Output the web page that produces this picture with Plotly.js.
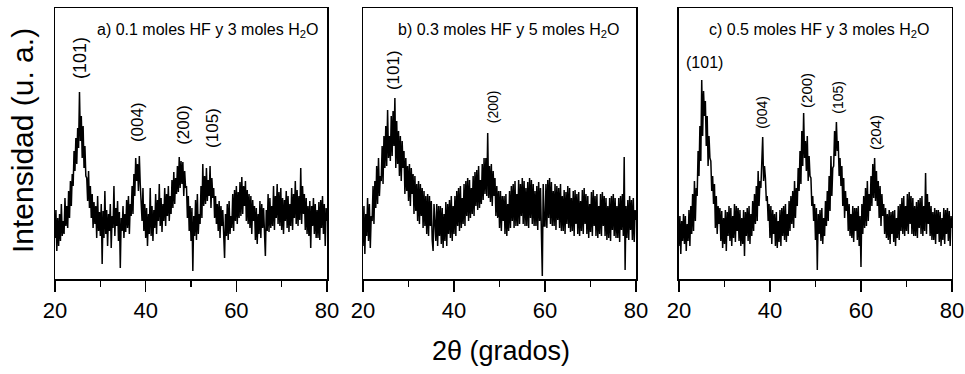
<!DOCTYPE html>
<html>
<head>
<meta charset="utf-8">
<script src="https://cdn.plot.ly/plotly-3.0.1.min.js"></script>
<style>html,body{margin:0;padding:0;background:#fff}#chart{width:965px;height:374px}</style>
</head>
<body>
<div id="chart"></div>
<script>
// 2θ sampling grid (degrees): start and step of the digitised patterns
const thetaStart = 20;
const thetaStep = 0.2;

// Intensity (a.u.) read from panel a) 0.1 moles HF y 3 moles H2O
const intensityA = [
 38,66,25,58,30, 62,35,72,40,55, 42,78,50,70,48, 85,58,95,70,102, 90,125,105,138,112,
 148,128,184,135,160, 118,150,108,130,100, 98,75,105,68,90, 58,82,48,74,52, 70,38,80,45,64,
 40,72,12,65,38, 85,42,66,30,62, 45,72,28,60,48, 90,40,68,50,75, 35,64,8,58,45,
 70,38,62,44,76, 48,80,42,72,60, 90,62,102,80,118, 95,112,85,120,92, 75,55,88,45,72,
 38,68,30,62,42, 88,40,70,35,66, 48,82,42,76,55, 92,50,78,44,72, 55,88,50,82,60,
 90,55,80,62,96, 68,104,72,98,82, 110,84,119,88,115, 92,114,80,105,88, 90,58,80,45,70,
 35,68,5,60,40, 76,36,82,42,62, 52,90,58,112,70, 100,72,108,75,96, 80,110,68,98,78,
 88,58,80,52,72, 45,75,38,70,50, 66,30,18,62,40, 72,36,75,42,60, 48,82,45,86,55,
 90,52,84,58,94, 60,99,62,90,70, 95,55,86,52,82, 48,80,42,76,55, 70,36,68,32,62,
 42,75,38,72,48, 68,36,20,66,45, 82,44,78,48,70, 50,90,46,80,58, 92,52,84,50,88,
 46,78,42,76,55, 85,48,80,44,72, 50,88,46,82,58, 95,52,86,50,80, 56,108,52,90,62,
 82,46,78,42,70, 40,75,28,70,50, 78,42,72,38,66, 38,74,36,76,48, 80,42,72,30,68,
 55
];

// Intensity (a.u.) read from panel b) 0.3 moles HF y 5 moles H2O
const intensityB = [
 30,70,22,62,40, 78,35,72,28,60, 55,90,52,95,68, 110,72,118,80,100, 95,130,92,140,108,
 150,110,166,118,140, 115,160,120,165,130, 178,108,155,112,145, 100,140,95,135,108, 125,82,118,85,110,
 75,112,70,108,82, 102,62,100,65,92, 55,95,52,92,60, 88,48,85,50,80, 42,82,40,80,50,
 75,36,25,72,45, 35,72,30,70,40, 70,32,68,28,62, 35,74,30,72,42, 76,38,80,35,70,
 42,80,40,85,50, 88,45,90,48,78, 52,92,50,95,60, 98,55,96,58,88, 62,100,60,104,70,
 106,66,110,68,96, 72,112,76,118,82, 118,80,143,78,110, 74,112,70,105,80, 98,60,90,58,85,
 48,85,45,80,55, 80,42,82,40,72, 45,85,48,90,55, 92,48,95,50,82, 50,96,52,92,60,
 98,52,95,50,88, 50,94,48,98,58, 96,52,92,50,85, 50,90,46,94,55, 88,48,0,92,50,
 50,92,48,96,58, 98,52,94,50,85, 50,92,46,90,56, 88,48,92,45,80, 45,86,42,84,52,
 90,48,88,44,78, 45,85,40,86,52, 82,42,84,40,75, 45,86,42,88,52, 82,42,80,38,72,
 44,84,40,86,50, 80,40,82,38,70, 42,82,40,84,50, 80,40,78,36,70, 38,78,35,80,46,
 82,40,78,38,70, 38,78,34,80,46, 82,40,119,6,70, 38,76,36,80,46, 76,36,78,34,66,
 56
];

// Intensity (a.u.) read from panel c) 0.5 moles HF y 3 moles H2O
const intensityC = [
 30,60,22,55,35, 62,32,60,25,52, 35,66,30,70,42, 82,45,95,55,88, 80,125,100,150,115,
 196,140,185,160,175, 130,160,110,140,118, 115,85,100,72,92, 48,80,42,70,52, 68,35,65,28,58,
 32,66,25,64,40, 70,35,68,30,60, 38,72,34,70,45, 68,35,66,30,58, 32,66,20,64,40,
 68,35,70,32,62, 40,75,45,82,52, 90,55,105,70,95, 88,120,139,95,110, 98,75,80,55,72,
 38,70,32,66,42, 62,30,64,28,55, 34,66,30,68,40, 70,36,72,34,62, 40,75,45,80,52,
 85,48,95,58,88, 70,108,85,125,92, 145,110,163,118,135, 105,140,95,120,100, 98,70,80,55,72,
 36,68,6,62,42, 66,35,68,32,58, 40,75,50,85,55, 100,65,120,80,108, 110,145,120,154,125,
 135,100,118,90,110, 70,98,58,85,65, 78,45,72,40,62, 38,70,34,68,45, 68,36,70,30,60,
 9,72,42,80,48, 88,50,95,55,82, 65,100,70,112,78, 118,75,105,70,95, 58,90,50,82,60,
 72,42,68,38,62, 36,66,32,64,42, 65,34,66,30,58, 38,70,36,72,45, 78,42,80,40,70,
 45,82,42,84,52, 80,42,78,40,70, 40,74,38,76,48, 78,42,80,40,70, 45,103,42,82,52,
 74,40,70,36,64, 36,68,32,66,42, 66,34,64,30,58, 36,68,32,66,42, 68,35,65,30,60,
 48
];

// Panel captions and Miller-index labels
const panelTitles = [
 'a) 0.1 moles HF y 3 moles H<sub>2</sub>O',
 'b) 0.3 moles HF y 5 moles H<sub>2</sub>O',
 'c) 0.5 moles HF y 3 moles H<sub>2</sub>O'
];
const peakLabelsA = ['(101)','(004)','(200)','(105)'];
const peakPosA = [25.5, 38.1, 48.2, 54.6];
const peakLabelYA = [218, 154, 151, 148];
const peakLabelsB = ['(101)','(200)'];
const peakPosB = [26.6, 48.6];
const peakLabelYB = [206, 169];
const peakLabelsC = ['(101)','(004)','(200)','(105)','(204)'];
const peakPosC = [25.7, 38.2, 47.9, 54.9, 63.1];
const peakLabelYC = [214, 164, 186, 179, 143];

const xTickVals = [20, 40, 60, 80];
const xTickText = ['20', '40', '60', '80'];

function grid(arr){ return arr.map((_, i) => thetaStart + i*thetaStep); }

const lineStyle = {color:'#000', width:1.5};
const traces = [
 {x: grid(intensityA), y: intensityA, xaxis:'x', yaxis:'y', type:'scatter', mode:'lines', line:lineStyle, hoverinfo:'skip'},
 {x: grid(intensityB), y: intensityB, xaxis:'x2', yaxis:'y2', type:'scatter', mode:'lines', line:lineStyle, hoverinfo:'skip'},
 {x: grid(intensityC), y: intensityC, xaxis:'x3', yaxis:'y3', type:'scatter', mode:'lines', line:lineStyle, hoverinfo:'skip'}
];

const tickFont = {family:'Liberation Sans, Arial, sans-serif', size:22, color:'#000'};
function xAxis(domain, anchor){
 return {domain: domain, anchor: anchor, range:[20,80], tickvals:xTickVals, ticktext:xTickText,
  ticks:'outside', ticklen:11, tickwidth:1.5, tickcolor:'#000', ticklabeloverflow:'allow',
  minor:{tickvals:[30,50,70], ticks:'outside', ticklen:6, tickwidth:1.5, tickcolor:'#000'},
  showline:true, linewidth:1.5, linecolor:'#000', mirror:true, showgrid:false, zeroline:false,
  tickfont:tickFont, fixedrange:true};
}
function yAxis(anchor){
 return {domain:[0.254, 0.9786], anchor: anchor, range:[-3, 268], showticklabels:false, ticks:'',
  showline:true, linewidth:1.5, linecolor:'#000', mirror:true, showgrid:false, zeroline:false, fixedrange:true};
}

const annFont = {family:'Liberation Sans, Arial, sans-serif', color:'#000'};
const annotations = [];
const titleX = [53.6, 51.9, 50.8];
['x','x2','x3'].forEach((xr, i) => {
 annotations.push({xref:xr, yref:(i===0?'y':'y'+(i+1)), x:titleX[i], y:246, text:panelTitles[i], showarrow:false,
  font:Object.assign({size:16}, annFont), xanchor:'center', yanchor:'middle'});
});
function addPeaks(labels, pos, ys, xr, yr, sizes, horizontalFirst){
 labels.forEach((t, i) => {
  const horiz = horizontalFirst && i === 0;
  annotations.push({xref:xr, yref:yr, x:pos[i], y:ys[i], text:t, showarrow:false,
   textangle: horiz ? 0 : -90, font:Object.assign({size:sizes[i]}, annFont), xanchor:'center', yanchor:'middle'});
 });
}
addPeaks(peakLabelsA, peakPosA, peakLabelYA, 'x', 'y', [18,17,17,17], false);
addPeaks(peakLabelsB, peakPosB, peakLabelYB, 'x2', 'y2', [17,14], false);
addPeaks(peakLabelsC, peakPosC, peakLabelYC, 'x3', 'y3', [16,14,15,14,15], true);

annotations.push({xref:'paper', yref:'paper', x:501/965, y:1-351/374, text:'2θ (grados)', showarrow:false,
 font:{family:'Liberation Sans, Arial, sans-serif', size:27, color:'#000'}, xanchor:'center', yanchor:'middle'});
annotations.push({xref:'paper', yref:'paper', x:23/965, y:1-141/374, text:'Intensidad (u. a.)', showarrow:false, textangle:-90,
 font:{family:'Liberation Sans, Arial, sans-serif', size:30, color:'#000'}, xanchor:'center', yanchor:'middle'});

const layout = {
 width:965, height:374, margin:{l:0, r:0, t:0, b:0}, showlegend:false,
 paper_bgcolor:'#fff', plot_bgcolor:'#fff',
 xaxis: xAxis([0.0570, 0.3389], 'y'),
 xaxis2: xAxis([0.3762, 0.6591], 'y2'),
 xaxis3: xAxis([0.7036, 0.9865], 'y3'),
 yaxis: yAxis('x'), yaxis2: yAxis('x2'), yaxis3: yAxis('x3'),
 annotations: annotations
};
Plotly.newPlot('chart', traces, layout, {staticPlot:true, displayModeBar:false});
</script>
</body>
</html>
